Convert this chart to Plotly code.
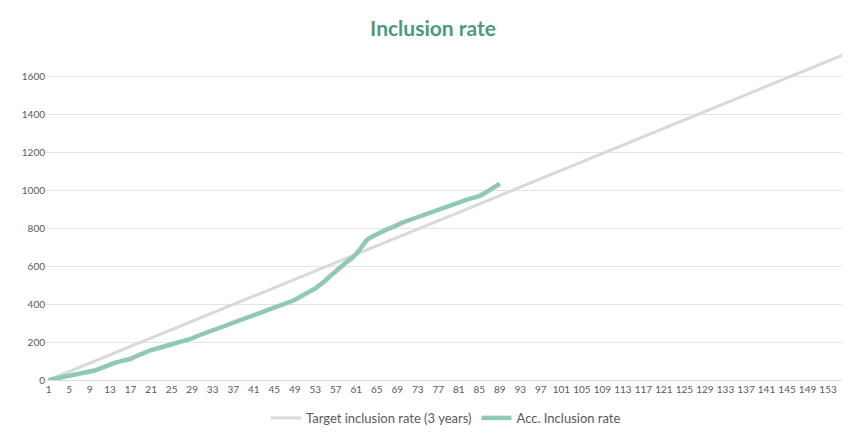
import plotly.graph_objects as go

# Target inclusion rate (3 years), weekly cumulative
target = [0, 11, 22, 33, 44, 55, 66, 77, 88, 100, 111, 122, 133, 144, 155, 166, 177, 188, 199, 210,
          221, 232, 243, 254, 265, 277, 288, 299, 310, 321, 332, 343, 354, 365, 376, 387, 398, 409, 420, 431,
          442, 454, 465, 476, 487, 498, 509, 520, 531, 542, 553, 564, 575, 586, 597, 608, 619, 631, 642, 653,
          664, 675, 686, 697, 708, 719, 730, 741, 752, 763, 774, 785, 796, 808, 819, 830, 841, 852, 863, 874,
          885, 896, 907, 918, 929, 940, 951, 962, 973, 985, 996, 1007, 1018, 1029, 1040, 1051, 1062, 1073, 1084, 1095,
          1106, 1117, 1128, 1139, 1150, 1162, 1173, 1184, 1195, 1206, 1217, 1228, 1239, 1250, 1261, 1272, 1283, 1294, 1305, 1316,
          1327, 1339, 1350, 1361, 1372, 1383, 1394, 1405, 1416, 1427, 1438, 1449, 1460, 1471, 1482, 1493, 1504, 1516, 1527, 1538,
          1549, 1560, 1571, 1582, 1593, 1604, 1615, 1626, 1637, 1648, 1659, 1670, 1681, 1693, 1704, 1715]

# Accumulated inclusion rate
acc = [0, 5, 10, 15, 20, 25, 30, 35, 40,
       50, 60, 72, 85, 92, 98, 104, 112, 125, 138, 148, 158,
       165, 172, 180, 190, 198, 205, 212, 220, 232, 242, 250, 260,
       272, 283, 292, 300, 310, 318, 330, 340, 350, 362, 374, 380,
       392, 402, 412, 422, 438, 455, 468, 482, 500, 525, 550, 575,
       600, 620, 640, 665, 700, 738, 755, 770, 785, 795, 805, 820,
       830, 840, 850, 860, 870, 880, 890, 900, 910, 920, 930, 940,
       950, 955, 962, 970, 985, 1000, 1015, 1035]

weeks = list(range(1, len(target) + 1))
tick_weeks = list(range(1, len(target) + 1, 4))

fig = go.Figure()
fig.add_trace(go.Scatter(x=weeks, y=target, mode="lines", name="Target inclusion rate (3 years)",
                         line=dict(color="#d9d9d9", width=3)))
fig.add_trace(go.Scatter(x=weeks[:len(acc)], y=acc, mode="lines", name="Acc. Inclusion rate",
                         line=dict(color="#8fc9b5", width=4.5)))

fig.update_layout(
    width=850, height=437,
    paper_bgcolor="white", plot_bgcolor="white",
    font=dict(family="Lato, sans-serif", color="#595959", size=10),
    title=dict(text="<b>Inclusion rate</b>", x=0.5, xanchor="center", y=0.953, yanchor="middle",
               font=dict(size=21, color="#4a9a7e")),
    margin=dict(l=38, r=12, t=44, b=55),
    showlegend=True,
    legend=dict(orientation="h", x=0.5, xanchor="center", y=-0.07, yanchor="top",
                font=dict(size=13, color="#595959")),
    xaxis=dict(range=[0.5, len(target) + 0.5], tickvals=tick_weeks, showgrid=False,
               showline=True, linecolor="#d9d9d9", ticks="", tickfont=dict(size=10)),
    yaxis=dict(range=[0, 1730], tickvals=list(range(0, 1601, 200)), gridcolor="#e3e3e3",
               zeroline=False, ticks="", tickfont=dict(size=10)),
)

fig.write_html("out.html")
